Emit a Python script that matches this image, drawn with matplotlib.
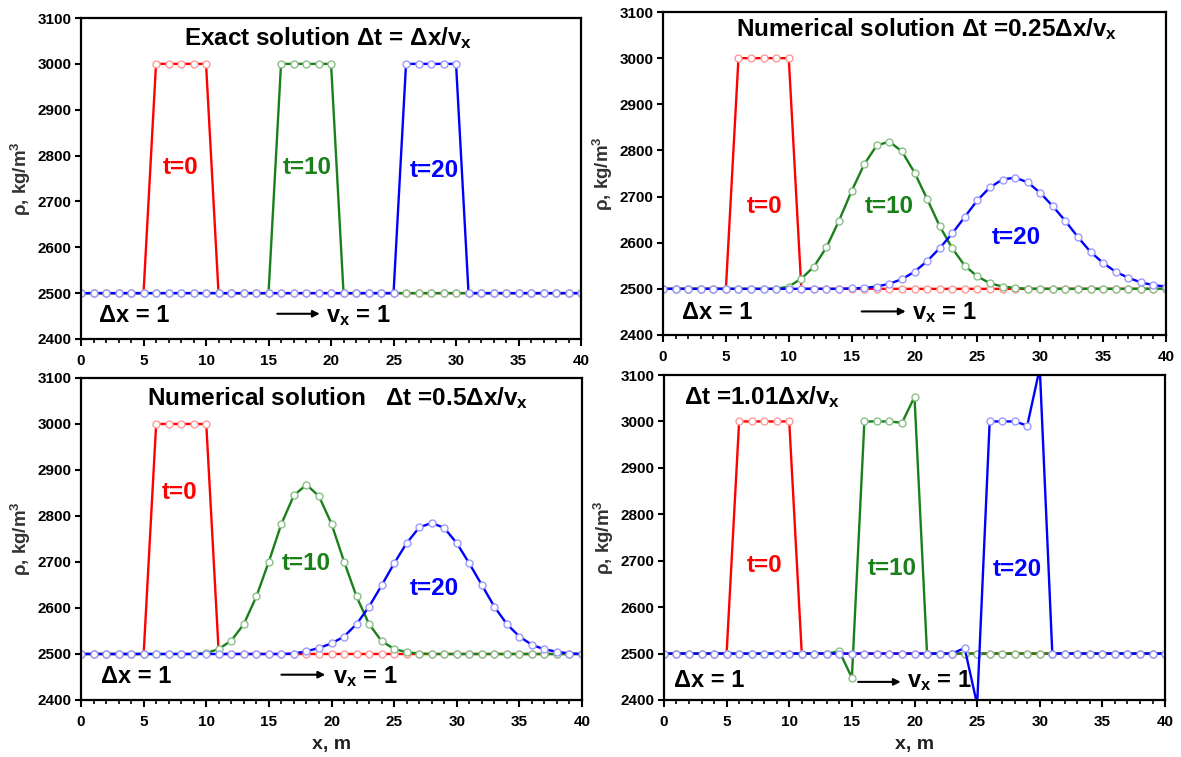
import numpy as np
import matplotlib
matplotlib.use('Agg')
import matplotlib.pyplot as plt
from matplotlib.ticker import MultipleLocator

plt.rcParams['font.family'] = ['Liberation Sans', 'DejaVu Sans']
plt.rcParams['font.weight'] = 'bold'
plt.rcParams['mathtext.fontset'] = 'custom'
plt.rcParams['mathtext.rm'] = 'Liberation Sans:bold'
plt.rcParams['mathtext.it'] = 'Liberation Sans:bold'
plt.rcParams['mathtext.bf'] = 'Liberation Sans:bold'
plt.rcParams['mathtext.default'] = 'regular'

# grid nodes
x = np.arange(0, 41)

# initial pulse, same in every panel
rho_t0 = [2500] * 6 + [3000] * 5 + [2500] * 30

# exact solution, dt = dx/vx
exact_t10 = [2500] * 16 + [3000] * 5 + [2500] * 20
exact_t20 = [2500] * 26 + [3000] * 5 + [2500] * 10

# numerical, dt = 0.25 dx/vx
c025_t10 = [2500] * 10 + [2505, 2522, 2548, 2590, 2648, 2712, 2770, 2811, 2819, 2798,
                          2752, 2695, 2636, 2588, 2550, 2527, 2512, 2505, 2502] + [2500] * 12
c025_t20 = [2500] * 15 + [2501, 2502, 2505, 2511, 2521, 2537, 2560, 2588, 2620, 2656,
                          2692, 2720, 2737, 2741, 2731, 2708, 2679, 2647, 2612, 2580,
                          2556, 2537, 2524, 2514, 2508, 2505]

# numerical, dt = 0.5 dx/vx
c05_t10 = [2500] * 10 + [2502, 2511, 2529, 2565, 2625, 2701, 2783, 2845, 2868, 2843,
                         2783, 2701, 2625, 2565, 2528, 2511, 2504, 2501] + [2500] * 13
c05_t20 = [2500] * 17 + [2501, 2506, 2513, 2523, 2538, 2565, 2603, 2649, 2697, 2741,
                         2775, 2785, 2774, 2741, 2697, 2650, 2603, 2565, 2538, 2520,
                         2510, 2505, 2501, 2500]

# numerical, dt = 1.01 dx/vx (unstable)
c101_t10 = [2500] * 14 + [2505, 2448, 3000, 3000, 3000, 2997, 3053] + [2500] * 20
c101_t20 = [2500] * 24 + [2512, 2390, 3000, 3000, 3000, 2991, 3115] + [2500] * 10

red, green, blue = '#ff0000', '#1a801a', '#0000ff'
red_m, green_m, blue_m = '#ff9a9a', '#8cbf8c', '#9a9aff'

fig = plt.figure(figsize=(11.81, 7.57), dpi=100)

panels = [
    dict(pos=[0.0686, 0.5522, 0.4234, 0.4240], s10=exact_t10, s20=exact_t20,
         title='Exact solution Δt = Δx/v$_x$', tx=19.8, ty=3056, ha='center',
         labels=[(8.0, 2775), (18.1, 2775), (28.3, 2768)],
         dx=(1.4, 2452), arr=(15.7, 19.1, 2455), vx=(19.6, 2452), xlabel=False),
    dict(pos=[0.5614, 0.5575, 0.4259, 0.4266], s10=c025_t10, s20=c025_t20,
         title='Numerical solution Δt =0.25Δx/v$_x$', tx=21.0, ty=3063, ha='center',
         labels=[(8.1, 2678), (18.0, 2678), (28.1, 2612)],
         dx=(1.5, 2448), arr=(15.8, 19.3, 2451), vx=(19.8, 2448), xlabel=False),
    dict(pos=[0.0686, 0.0753, 0.4242, 0.4254], s10=c05_t10, s20=c05_t20,
         title='Numerical solution   Δt =0.5Δx/v$_x$', tx=20.5, ty=3056, ha='center',
         labels=[(7.9, 2850), (18.0, 2696), (28.2, 2643)],
         dx=(1.6, 2451), arr=(16.0, 19.5, 2455), vx=(20.1, 2451), xlabel=True),
    dict(pos=[0.5622, 0.0753, 0.4243, 0.4293], s10=c101_t10, s20=c101_t20,
         title='Δt =1.01Δx/v$_x$', tx=1.6, ty=3052, ha='left',
         labels=[(8.0, 2690), (18.2, 2684), (28.2, 2682)],
         dx=(0.8, 2442), arr=(15.5, 18.9, 2439), vx=(19.4, 2442), xlabel=True),
]

for p in panels:
    ax = fig.add_axes(p['pos'])
    for y, c, mc in [(rho_t0, red, red_m), (p['s10'], green, green_m), (p['s20'], blue, blue_m)]:
        ax.plot(x, y, '-o', color=c, lw=1.7, ms=5.0, mfc='white', mec=mc, mew=1.0)

    ax.set_xlim(0, 40)
    ax.set_ylim(2400, 3100)
    ax.xaxis.set_major_locator(MultipleLocator(5))
    ax.xaxis.set_minor_locator(MultipleLocator(1))
    ax.yaxis.set_major_locator(MultipleLocator(100))
    ax.tick_params(which='major', direction='out', length=5, width=1.5, labelsize=11, pad=6)
    ax.tick_params(which='minor', direction='out', length=3, width=1.2)
    ax.tick_params(axis='y', which='major', length=4, pad=3)
    for lab in ax.get_xticklabels() + ax.get_yticklabels():
        lab.set_fontweight('bold')
    for sp in ax.spines.values():
        sp.set_linewidth(1.6)

    ax.set_ylabel('ρ, kg/m$^3$', fontsize=13.5, fontweight='bold', color='#333333', labelpad=3)
    if p['xlabel']:
        ax.set_xlabel('x, m', fontsize=14, fontweight='bold', color='#222222', labelpad=5)

    ax.text(p['tx'], p['ty'], p['title'], fontsize=17.5, fontweight='bold',
            ha=p['ha'], va='center')
    for (lx, ly), txt, c in zip(p['labels'], ['t=0', 't=10', 't=20'], [red, green, blue]):
        ax.text(lx, ly, txt, color=c, fontsize=17.5, fontweight='bold', ha='center', va='center')
    ax.text(p['dx'][0], p['dx'][1], 'Δx = 1', fontsize=17, fontweight='bold', ha='left', va='center')
    a0, a1, ay = p['arr']
    ax.annotate('', xy=(a1, ay), xytext=(a0, ay),
                arrowprops=dict(arrowstyle='-|>', color='black', lw=1.5, mutation_scale=10,
                                shrinkA=0, shrinkB=0))
    ax.text(p['vx'][0], p['vx'][1], 'v$_x$ = 1', fontsize=17, fontweight='bold', ha='left', va='center')

fig.savefig('out.png', dpi=100)
